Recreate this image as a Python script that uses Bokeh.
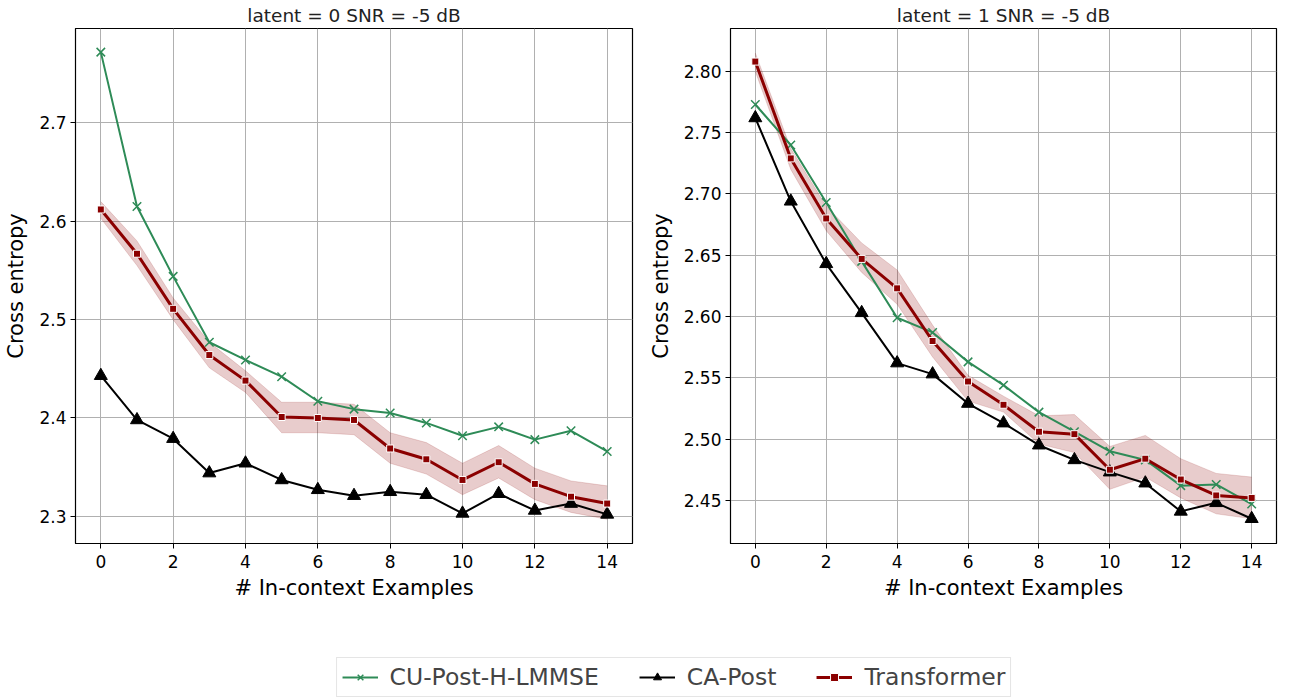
from bokeh.plotting import figure
from bokeh.layouts import column, row
from bokeh.models import Range1d, Legend, LegendItem, FixedTicker, PrintfTickFormatter
from bokeh.embed import file_html
from bokeh.resources import INLINE

x = list(range(15))

# latent = 0
left_cu = [2.772, 2.615, 2.544, 2.477, 2.459, 2.442, 2.417, 2.409, 2.405, 2.395, 2.382, 2.391, 2.378, 2.387, 2.366]
left_ca = [2.443, 2.398, 2.379, 2.344, 2.354, 2.337, 2.327, 2.321, 2.325, 2.322, 2.303, 2.323, 2.306, 2.313, 2.302]
left_tf = [2.612, 2.567, 2.511, 2.464, 2.438, 2.401, 2.400, 2.398, 2.369, 2.358, 2.337, 2.355, 2.333, 2.320, 2.313]
left_tf_lo = [2.603, 2.555, 2.500, 2.451, 2.426, 2.385, 2.385, 2.383, 2.354, 2.343, 2.322, 2.339, 2.317, 2.304, 2.297]
left_tf_hi = [2.620, 2.580, 2.522, 2.477, 2.448, 2.416, 2.416, 2.414, 2.385, 2.375, 2.354, 2.372, 2.349, 2.336, 2.331]

# latent = 1
right_cu = [2.773, 2.740, 2.693, 2.645, 2.599, 2.587, 2.563, 2.544, 2.522, 2.506, 2.490, 2.483, 2.462, 2.463, 2.447]
right_ca = [2.762, 2.694, 2.643, 2.603, 2.562, 2.553, 2.529, 2.513, 2.495, 2.483, 2.473, 2.464, 2.441, 2.448, 2.435]
right_tf = [2.808, 2.729, 2.680, 2.647, 2.623, 2.580, 2.547, 2.528, 2.506, 2.504, 2.475, 2.484, 2.467, 2.454, 2.452]
right_tf_lo = [2.800, 2.720, 2.670, 2.636, 2.610, 2.567, 2.531, 2.522, 2.496, 2.489, 2.459, 2.469, 2.452, 2.439, 2.435]
right_tf_hi = [2.815, 2.737, 2.690, 2.660, 2.638, 2.593, 2.552, 2.535, 2.519, 2.520, 2.494, 2.503, 2.484, 2.472, 2.469]

titles = ["latent = 0 SNR = -5 dB", "latent = 1 SNR = -5 dB"]
labels = ["CU-Post-H-LMMSE", "CA-Post", "Transformer"]
xticks = [0, 2, 4, 6, 8, 10, 12, 14]
left_yticks = [2.3, 2.4, 2.5, 2.6, 2.7]
right_yticks = [2.45, 2.50, 2.55, 2.60, 2.65, 2.70, 2.75, 2.80]

GREEN = "#2e8b57"
RED = "#8b0000"
FONT = "DejaVu Sans"


def make_panel(title, cu, ca, tf, lo, hi, yr, yticks, fmt, width, bl, br):
    p = figure(width=width, height=602, output_backend="svg", toolbar_location=None,
               x_range=Range1d(-0.7, 14.7), y_range=Range1d(*yr),
               min_border_left=bl, min_border_right=br, min_border_top=20, min_border_bottom=10)
    p.title.text = title
    p.title.align = "center"
    p.title.text_font = FONT
    p.title.text_font_style = "normal"
    p.title.text_font_size = "18.5px"
    p.title.text_color = "#222222"
    p.title.standoff = 5
    p.outline_line_color = "black"
    p.outline_line_width = 1.2
    p.background_fill_color = "white"
    p.border_fill_color = "white"

    p.xaxis.ticker = FixedTicker(ticks=xticks)
    p.yaxis.ticker = FixedTicker(ticks=yticks)
    p.yaxis.formatter = PrintfTickFormatter(format=fmt)
    p.xaxis.axis_label = "# In-context Examples"
    p.yaxis.axis_label = "Cross entropy"
    for ax in (p.xaxis, p.yaxis):
        ax.axis_label_text_font = FONT
        ax.axis_label_text_font_style = "normal"
        ax.axis_label_text_font_size = "21px"
        ax.axis_label_text_color = "black"
        ax.major_label_text_font = FONT
        ax.major_label_text_font_size = "17px"
        ax.major_label_text_color = "black"
        ax.minor_tick_line_color = None
        ax.major_tick_out = 5
        ax.major_tick_in = 0
        ax.major_tick_line_color = "black"
        ax.axis_line_color = "black"
    p.xaxis.axis_label_standoff = 5
    p.yaxis.axis_label_standoff = 8
    p.xaxis.major_label_standoff = 6
    p.yaxis.major_label_standoff = 4
    p.grid.grid_line_color = "#b0b0b0"
    p.grid.grid_line_width = 1

    p.varea(x=x, y1=lo, y2=hi, fill_color=RED, fill_alpha=0.2)
    p.line(x, lo, line_color=RED, line_alpha=0.15, line_width=1)
    p.line(x, hi, line_color=RED, line_alpha=0.15, line_width=1)

    p.line(x, cu, line_color=GREEN, line_width=2)
    p.scatter(x, cu, marker="x", size=12, line_color=GREEN, line_width=1.5)

    p.line(x, ca, line_color="black", line_width=2)
    p.scatter(x, ca, marker="triangle", size=13, fill_color="black", line_color="black")

    p.line(x, tf, line_color=RED, line_width=3)
    p.scatter(x, tf, marker="square", size=7, fill_color=RED, line_color="white", line_width=1)
    return p


p1 = make_panel(titles[0], left_cu, left_ca, left_tf, left_tf_lo, left_tf_hi,
                (2.2724, 2.796), left_yticks, "%.1f", 645, 75, 13)
p2 = make_panel(titles[1], right_cu, right_ca, right_tf, right_tf_lo, right_tf_hi,
                (2.4148, 2.835), right_yticks, "%.2f", 638, 80, 7)

# legend figure
pl = figure(width=1283, height=97, output_backend="svg", toolbar_location=None,
            x_range=Range1d(0, 1), y_range=Range1d(0, 1),
            min_border_left=64, min_border_right=0, min_border_top=0, min_border_bottom=0)
pl.axis.visible = False
pl.grid.visible = False
pl.outline_line_color = None
off = [5, 6]
r1 = pl.line(off, off, line_color=GREEN, line_width=2)
r1m = pl.scatter(off, off, marker="x", size=9, line_color=GREEN, line_width=1.5)
r2 = pl.line(off, off, line_color="black", line_width=2)
r2m = pl.scatter(off, off, marker="triangle", size=11, fill_color="black", line_color="black")
r3 = pl.line(off, off, line_color=RED, line_width=3)
r3m = pl.scatter(off, off, marker="square", size=6, fill_color=RED, line_color="white", line_width=1)
legend = Legend(items=[LegendItem(label=labels[0], renderers=[r1, r1m]),
                       LegendItem(label=labels[1], renderers=[r2, r2m]),
                       LegendItem(label=labels[2], renderers=[r3, r3m])],
                orientation="horizontal", location="bottom_center",
                label_text_font=FONT, label_text_font_size="23.5px",
                glyph_width=36, spacing=40, padding=5, margin=2,
                border_line_color="#cccccc", border_line_width=1.2,
                label_standoff=12)
pl.add_layout(legend, "center")

layout = column(row(p1, p2), pl, spacing=0)
open("out.html", "w").write(file_html(layout, INLINE))
